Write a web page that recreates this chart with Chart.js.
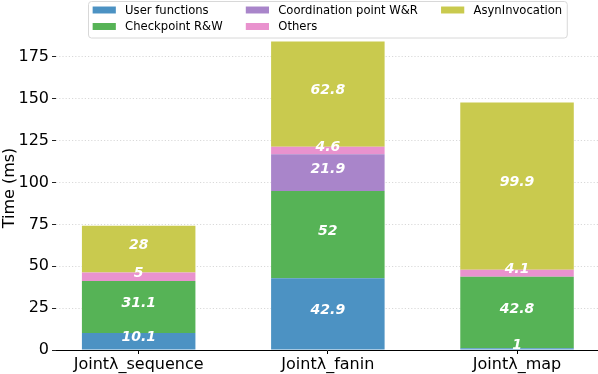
<!DOCTYPE html>
<html><head><meta charset="utf-8">
<script src="https://cdn.jsdelivr.net/npm/chart.js@4"></script>
<style>html,body{margin:0;padding:0;background:#fff}</style>
</head><body>
<canvas id="c" width="598" height="374" style="width:598px;height:374px"></canvas>
<script>
const categories = ['Jointλ_sequence', 'Jointλ_fanin', 'Jointλ_map'];
const seriesLabels = ['User functions', 'Checkpoint R&W', 'Coordination point W&R', 'Others', 'AsynInvocation'];
const userFunctions = [10.1, 42.9, 1];
const checkpointRW = [31.1, 52, 42.8];
const coordinationWR = [0, 21.9, 0];
const others = [5, 4.6, 4.1];
const asynInvocation = [28, 62.8, 99.9];
const yTicks = [0, 25, 50, 75, 100, 125, 150, 175];

const colors = ['#4c92c3', '#56b356', '#a985ca', '#e992ce', '#c9ca4e'];
const seriesValues = [userFunctions, checkpointRW, coordinationWR, others, asynInvocation];

Chart.defaults.font.family = "'DejaVu Sans', sans-serif";
Chart.defaults.color = '#000';

const datasets = seriesValues.map((vals, i) => ({
  label: seriesLabels[i],
  data: vals.map((v, j) => ({ x: j, y: v })),
  backgroundColor: colors[i],
  borderWidth: 0,
  barPercentage: 0.6,
  categoryPercentage: 1.0
}));

const valueLabels = {
  id: 'valueLabels',
  afterDatasetsDraw(chart) {
    const ctx = chart.ctx;
    ctx.save();
    ctx.font = "italic bold 14px 'DejaVu Sans'";
    ctx.fillStyle = '#fff';
    ctx.textAlign = 'center';
    ctx.textBaseline = 'middle';
    chart.data.datasets.forEach((ds, i) => {
      const meta = chart.getDatasetMeta(i);
      meta.data.forEach((bar, j) => {
        const v = ds.data[j].y;
        if (!v) return;
        const p = bar.getProps(['x', 'y', 'base'], true);
        ctx.fillText(String(v), p.x, (p.y + p.base) / 2 - 3.5);
      });
    });
    ctx.restore();
  }
};

const boxLegend = {
  id: 'boxLegend',
  afterDraw(chart) {
    const ctx = chart.ctx;
    const fs = 11.6;
    ctx.save();
    ctx.font = fs + "px 'DejaVu Sans'";
    const items = chart.data.datasets.map(d => ({ text: d.label, color: d.backgroundColor }));
    const rows = 2;
    const ncol = Math.ceil(items.length / rows);
    const sw = 2 * fs, sh = 0.6 * fs, tp = 0.8 * fs, cs = 2 * fs, pad = 0.4 * fs;
    const colW = [];
    for (let c = 0; c < ncol; c++) {
      let w = 0;
      for (let r = 0; r < rows; r++) {
        const it = items[c * rows + r];
        if (it) w = Math.max(w, ctx.measureText(it.text).width);
      }
      colW.push(sw + tp + w);
    }
    const innerW = colW.reduce((a, b) => a + b, 0) + cs * (ncol - 1);
    const boxW = innerW + 2 * pad;
    const boxH = 36.5;
    const ca = chart.chartArea;
    const bx = Math.round((ca.left + ca.right) / 2 - boxW / 2);
    const by = 1;
    ctx.beginPath();
    ctx.roundRect(bx + 0.5, by + 0.5, boxW, boxH, 3);
    ctx.fillStyle = 'rgba(255,255,255,0.8)';
    ctx.fill();
    ctx.strokeStyle = '#d8d8d8';
    ctx.lineWidth = 1;
    ctx.stroke();
    const rowY = [10, 26.5];
    let x = bx + pad;
    ctx.textBaseline = 'middle';
    ctx.textAlign = 'left';
    for (let c = 0; c < ncol; c++) {
      for (let r = 0; r < rows; r++) {
        const it = items[c * rows + r];
        if (!it) continue;
        ctx.fillStyle = it.color;
        ctx.fillRect(x, rowY[r] - sh / 2, sw, sh);
        ctx.fillStyle = '#000';
        ctx.fillText(it.text, x + sw + tp, rowY[r] + 0.5);
      }
      x += colW[c] + cs;
    }
    ctx.restore();
  }
};

new Chart(document.getElementById('c'), {
  type: 'bar',
  data: { datasets },
  plugins: [valueLabels, boxLegend],
  options: {
    responsive: false,
    animation: false,
    devicePixelRatio: 1,
    layout: { padding: { top: 26, right: 0, left: 0, bottom: 0 } },
    plugins: { legend: { display: false }, tooltip: { enabled: false } },
    scales: {
      x: {
        type: 'linear',
        min: -0.437,
        max: 2.428,
        stacked: true,
        offset: false,
        grid: { offset: false, drawOnChartArea: false, drawTicks: true, tickLength: 4, tickColor: '#000', tickWidth: 1 },
        border: { display: true, color: '#000', width: 1 },
        ticks: { color: '#000', font: { size: 16 }, padding: 1, maxRotation: 0, autoSkip: false,
          callback: (v) => categories[v] !== undefined ? categories[v] : '' },
        afterBuildTicks: (s) => { s.ticks = categories.map((_, i) => ({ value: i })); },
        afterFit: (s) => { s.height = 24; }
      },
      y: {
        type: 'linear',
        min: 0,
        max: 193.41,
        stacked: true,
        grid: { color: '#cfcfcf', lineWidth: 0.8, drawTicks: true, tickLength: 4, tickColor: '#222', tickWidth: 1, tickBorderDash: [] },
        border: { display: false, dash: [1.2, 2] },
        ticks: { color: '#000', font: { size: 16 }, padding: 3 },
        title: { display: true, text: 'Time (ms)', font: { size: 16 }, color: '#000', padding: { top: 0, bottom: 0 } },
        afterBuildTicks: (s) => { s.ticks = yTicks.map(v => ({ value: v })); },
        afterFit: (s) => { s.width = 56; }
      }
    }
  }
});
</script>
</body></html>
